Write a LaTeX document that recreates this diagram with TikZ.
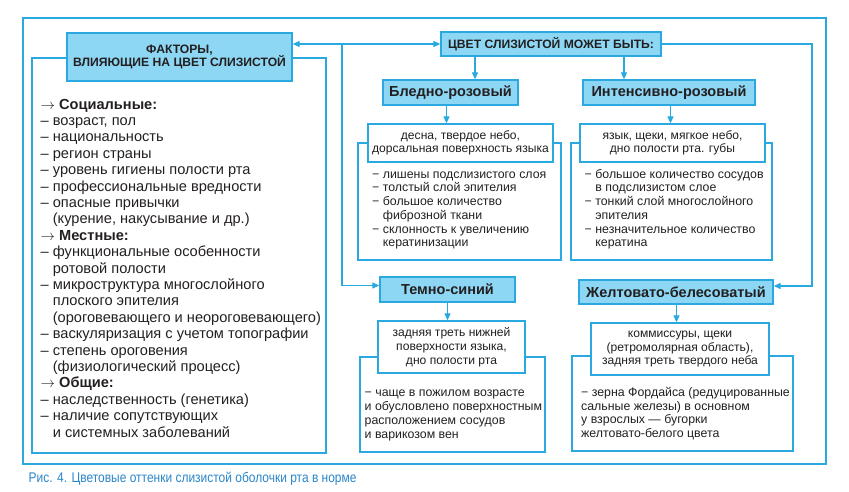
\documentclass[tikz,border=0pt]{standalone}
\usepackage{fontspec}
\setmainfont{Liberation Sans}
\newfontfamily\capfont[FakeStretch=0.855]{Liberation Sans}
\usetikzlibrary{arrows.meta}
\definecolor{frame}{HTML}{29A9E0}
\definecolor{boxfill}{HTML}{8DD7F4}
\definecolor{captxt}{HTML}{2A86C8}
\definecolor{ink}{HTML}{231F20}
\tikzset{
  hdr/.style={draw=frame, fill=boxfill, line width=1.3pt, inner sep=0pt, align=center, text=ink},
  hdrsmall/.style={hdr, font=\bfseries\fontsize{12.15}{13.6}\selectfont},
  hdrbig/.style={hdr, font=\bfseries\fontsize{14.5}{16}\selectfont},
  subbox/.style={draw=frame, fill=white, line width=1.3pt, inner sep=0pt, align=center, text=ink, font=\fontsize{12.1}{13.2}\selectfont},
  bodybox/.style={draw=frame, line width=1.3pt, inner sep=0pt},
  bodytext/.style={anchor=north west, inner sep=0pt, align=left, text=ink, font=\fontsize{12.35}{13.7}\selectfont},
  listtext/.style={anchor=north west, inner sep=0pt, align=left, text=ink, font=\fontsize{14.6}{16.4}\selectfont},
  conn/.style={draw=frame, line width=1.2pt, -{Triangle[length=7pt,width=6pt]}},
  conn2/.style={draw=frame, line width=1.2pt, {Triangle[length=7pt,width=6pt]}-{Triangle[length=7pt,width=6pt]}},
}
\newcommand{\hd}[1]{$\rightarrow$ \textbf{\fontsize{14.6}{16.4}\selectfont #1}}
\newcommand{\hg}{\hphantom{– }}
\newcommand{\hm}{\hphantom{− }}
\begin{document}
\begin{tikzpicture}[x=1pt,y=-1pt]
\useasboundingbox (0,0) rectangle (849,492);
% outer frame
\draw[draw=frame, line width=2.4pt] (23,18) rectangle (826,464);

% body boxes
\node[bodybox, minimum width=294pt, minimum height=395pt] (factbody) at (179,255.5) {};
\node[bodybox, minimum width=203pt, minimum height=117pt] (bledbody) at (459.5,201.5) {};
\node[bodybox, minimum width=201pt, minimum height=117pt] (intbody) at (671.5,201.5) {};
\node[bodybox, minimum width=185pt, minimum height=95pt] (tembody) at (452.5,404.5) {};
\node[bodybox, minimum width=221pt, minimum height=95pt] (zhbody) at (682.5,403.5) {};

% headers
\node[hdrsmall, minimum width=225pt, minimum height=48pt] (fact) at (179.5,57) {ФАКТОРЫ,\\ВЛИЯЮЩИЕ НА ЦВЕТ СЛИЗИСТОЙ};
\node[hdrsmall, minimum width=220pt, minimum height=24pt] (cvet) at (551,44) {ЦВЕТ СЛИЗИСТОЙ МОЖЕТ БЫТЬ:};
\node[hdrbig, minimum width=135pt, minimum height=25pt] (bled) at (450.5,92.5) {Бледно-розовый};
\node[hdrbig, minimum width=172pt, minimum height=25pt] (intens) at (669,92.5) {Интенсивно-розовый};
\node[hdrbig, minimum width=135pt, minimum height=25pt] (temno) at (447.5,289.5) {Темно-синий};
\node[hdrbig, minimum width=194pt, minimum height=24pt] (zhelt) at (676,292) {Желтовато-белесоватый};

% sub boxes
\node[subbox, minimum width=185pt, minimum height=38pt] (bledsub) at (460.5,143) {десна, твердое небо,\\дорсальная поверхность языка};
\node[subbox, minimum width=185pt, minimum height=38pt] (intsub) at (672.5,143) {язык, щеки, мягкое небо,\\дно полости рта. губы};
\node[subbox, minimum width=147pt, minimum height=52pt, font=\fontsize{12.1}{13.8}\selectfont] (temsub) at (451.5,347) {задняя треть нижней\\поверхности языка,\\дно полости рта};
\node[subbox, minimum width=178pt, minimum height=52pt, font=\fontsize{12.1}{13.7}\selectfont] (zhsub) at (680,349) {коммиссуры, щеки\\(ретромолярная область),\\задняя треть твердого неба};

% left list
\node[listtext] (factlist) at (40.5,97.5) {\strut\hd{Социальные:}\\
– возраст, пол\\
– национальность\\
– регион страны\\
– уровень гигиены полости рта\\
– профессиональные вредности\\
– опасные привычки\\
\hg(курение, накусывание и др.)\\
\hd{Местные:}\\
– функциональные особенности\\
\hg ротовой полости\\
– микроструктура многослойного\\
\hg плоского эпителия\\
\hg(ороговевающего и неороговевающего)\\
– васкуляризация с учетом топографии\\
– степень ороговения\\
\hg(физиологический процесс)\\
\hd{Общие:}\\
– наследственность (генетика)\\
– наличие сопутствующих\\
\hg и системных заболеваний};

% body texts
\node[bodytext] (bledlist) at (372,168.5) {\strut− лишены подслизистого слоя\\
− толстый слой эпителия\\
− большое количество\\
\hm фиброзной ткани\\
− склонность к увеличению\\
\hm кератинизации};
\node[bodytext] (intlist) at (584.5,168.5) {\strut− большое количество сосудов\\
\hm в подслизистом слое\\
− тонкий слой многослойного\\
\hm эпителия\\
− незначительное количество\\
\hm кератина};
\node[bodytext, font=\fontsize{12.35}{14}\selectfont] (temlist) at (364.5,386.6) {\strut− чаще в пожилом возрасте\\
и обусловлено поверхностным\\
расположением сосудов\\
и варикозом вен};
\node[bodytext] (zhlist) at (581,386.8) {\strut− зерна Фордайса (редуцированные\\
сальные железы) в основном\\
у взрослых — бугорки\\
желтовато-белого цвета};

% connectors
\coordinate (jl) at (342,44);
\coordinate (jr) at (812,44);
\draw[conn2] (fact.east |- cvet.west) -- (cvet.west);
\draw[conn] (jl) |- ([yshift=4pt]temno.west);
\draw[conn] (cvet.east) -- (jr) |- ([yshift=6pt]zhelt.east);
\draw[conn] ([xshift=-76pt]cvet.south) -- ([xshift=-76pt]cvet.south |- bled.north);
\draw[conn] ([xshift=73pt]cvet.south) -- ([xshift=73pt]cvet.south |- intens.north);
\draw[conn] ([xshift=-4pt]bled.south) -- ([xshift=-4pt]bled.south |- bledsub.north);
\draw[conn] ([xshift=1.5pt]intens.south) -- ([xshift=1.5pt]intens.south |- intsub.north);
\draw[conn] (temno.south) -- (temno.south |- temsub.north);
\draw[conn] ([xshift=0.5pt]zhelt.south) -- ([xshift=0.5pt]zhelt.south |- zhsub.north);

% caption
\node[anchor=base west, inner sep=0pt, text=captxt, font=\capfont\fontsize{14}{16}\selectfont] (caption) at (28.5,482) {Рис. 4. Цветовые оттенки слизистой оболочки рта в норме};
\end{tikzpicture}
\end{document}
